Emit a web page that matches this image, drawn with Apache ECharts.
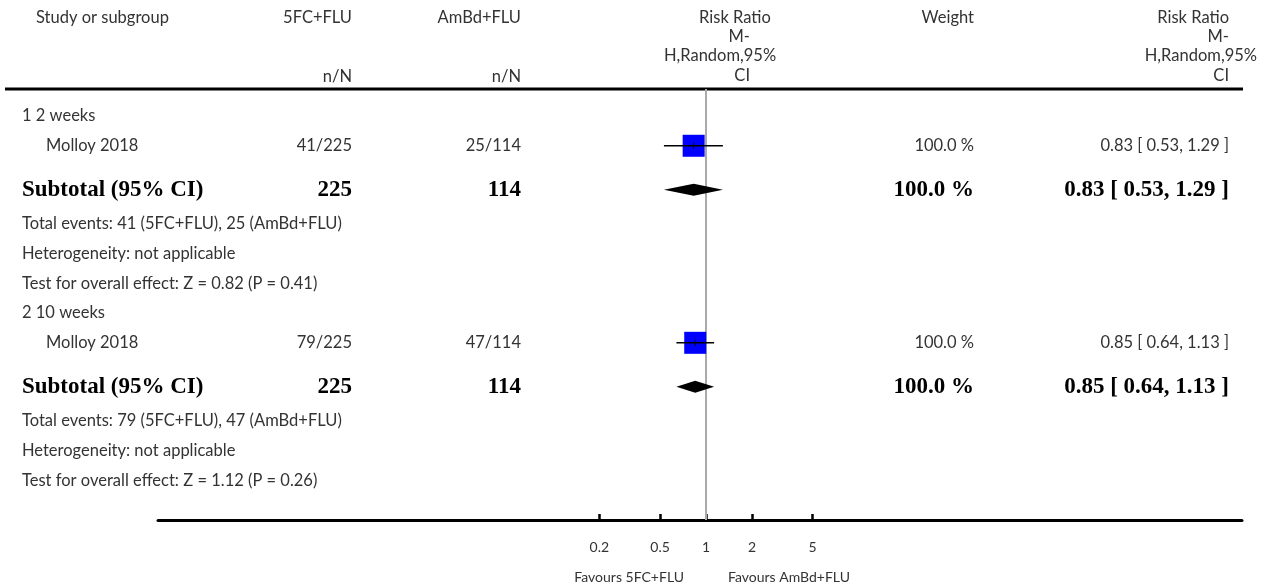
<!DOCTYPE html>
<html><head><meta charset="utf-8">
<script src="https://cdn.jsdelivr.net/npm/echarts@6/dist/echarts.min.js"></script>
<style>html,body{margin:0;padding:0;background:#fff}#c{width:1268px;height:588px}</style>
</head><body><div id="c"></div>
<script>
// ---- data ----
const subgroups = ['1 2 weeks', '2 10 weeks'];
const studies = ['Molloy 2018', 'Molloy 2018'];
const armA = '5FC+FLU';
const armB = 'AmBd+FLU';
const eventsA = [41, 79];
const totalA = [225, 225];
const eventsB = [25, 47];
const totalB = [114, 114];
const rr = [0.83, 0.85];
const ciLow = [0.53, 0.64];
const ciHigh = [1.29, 1.13];
const weights = [100.0, 100.0];
const subRR = [0.83, 0.85];
const subLow = [0.53, 0.64];
const subHigh = [1.29, 1.13];
const subWeights = [100.0, 100.0];
const zValues = ['0.82', '1.12'];
const pValues = ['0.41', '0.26'];
const tickValues = [0.2, 0.5, 1, 2, 5];
const tickLabels = ['0.2', '0.5', '1', '2', '5'];

// ---- layout ----
const headerLineY = 89, axisY = 520;
const gridLeft = 158, gridRight = 1242;
const onePx = 706, pxPerDecade = 152.6;
const xMin = Math.pow(10, (gridLeft - onePx) / pxPerDecade);
const xMax = Math.pow(10, (gridRight - onePx) / pxPerDecade);
const rowPx = 29.72;
const yMax = (axisY - headerLineY) / rowPx;
const colLeft = 22, colStudy = 46, colA = 352, colB = 521, colW = 974, colRR = 1229;
const SANS = "Lato, 'Noto Sans', sans-serif";
const NORMAL = "16.5px " + SANS;
const BOLD = "bold 23px 'Liberation Serif', serif";
const TXT = '#333';

function fmt(v) { return v.toFixed(2); }
function ciText(a, l, h) { return fmt(a) + ' [ ' + fmt(l) + ', ' + fmt(h) + ' ]'; }

// build rows
const rows = [];
let y = 0.91;
let prev = null;
function push(r) {
  if (prev) {
    if (r.type === 'subtotal') y += 1.48;
    else if (prev === 'subtotal') y += 1.15;
    else y += 1.0;
  }
  r.y = y; prev = r.type; rows.push(r);
}
for (let g = 0; g < subgroups.length; g++) {
  push({type: 'group', text: subgroups[g]});
  push({type: 'study', i: g});
  push({type: 'subtotal', i: g});
  push({type: 'plain', text: 'Total events: ' + eventsA[g] + ' (' + armA + '), ' + eventsB[g] + ' (' + armB + ')'});
  push({type: 'plain', text: 'Heterogeneity: not applicable'});
  push({type: 'plain', text: 'Test for overall effect: Z = ' + zValues[g] + ' (P = ' + pValues[g] + ')'});
}

function txt(x, yy, text, align, font, fill) {
  return {type: 'text', x: x, y: yy, style: {text: text, textAlign: align, textVerticalAlign: 'middle', font: font, fill: fill || TXT}};
}

const textData = rows.map((r, k) => [1, r.y, k]);
const studyData = [];
const diamondData = [];
rows.forEach(r => {
  if (r.type === 'study') studyData.push([rr[r.i], r.y, ciLow[r.i], ciHigh[r.i], weights[r.i]]);
  if (r.type === 'subtotal') diamondData.push([subRR[r.i], r.y, subLow[r.i], subHigh[r.i]]);
});

const chart = echarts.init(document.getElementById('c'), null, {renderer: 'canvas'});

const hdr = [];
function htxt(x, yy, text, align) {
  hdr.push({type: 'text', style: {x: x, y: yy, text: text, textAlign: align, textVerticalAlign: 'middle', font: NORMAL, fill: TXT}});
}
htxt(36, 18, 'Study or subgroup', 'left');
htxt(colA, 18, armA, 'right'); htxt(colA, 77, 'n/N', 'right');
htxt(colB, 18, armB, 'right'); htxt(colB, 77, 'n/N', 'right');
htxt(735, 18, 'Risk Ratio', 'center');
htxt(750, 37, 'M-', 'right');
htxt(720, 56, 'H,Random,95%', 'center');
htxt(750, 76, 'CI', 'right');
htxt(colW, 18, 'Weight', 'right');
htxt(colRR, 18, 'Risk Ratio', 'right');
htxt(colRR, 37, 'M-', 'right');
htxt(1257, 56, 'H,Random,95%', 'right');
htxt(colRR, 76, 'CI', 'right');
hdr.push({type: 'line', shape: {x1: 5, y1: headerLineY, x2: 1243, y2: headerLineY}, style: {stroke: '#000', lineWidth: 3}});
hdr.push({type: 'text', style: {x: 684, y: 577, text: 'Favours ' + armA, textAlign: 'right', textVerticalAlign: 'middle', font: '14px ' + SANS, fill: TXT}});
hdr.push({type: 'text', style: {x: 728, y: 577, text: 'Favours ' + armB, textAlign: 'left', textVerticalAlign: 'middle', font: '14px ' + SANS, fill: TXT}});

chart.setOption({
  animation: false,
  backgroundColor: '#fff',
  grid: {left: gridLeft, right: 1268 - gridRight, top: headerLineY, bottom: 588 - axisY, containLabel: false},
  xAxis: {
    type: 'log', logBase: 10, min: xMin, max: xMax, position: 'bottom',
    axisLine: {show: true, onZero: false, lineStyle: {color: '#000', width: 3}},
    axisTick: {show: true, inside: true, length: 6, customValues: tickValues, lineStyle: {color: '#000', width: 2.5}},
    axisLabel: {show: true, customValues: tickValues, margin: 20, fontSize: 14, fontFamily: SANS, color: TXT,
      formatter: function (v) {
        let best = 0, bd = Infinity;
        tickValues.forEach((t, k) => { const d = Math.abs(Math.log10(t) - Math.log10(v)); if (d < bd) { bd = d; best = k; } });
        return tickLabels[best];
      }},
    splitLine: {show: false}
  },
  yAxis: {type: 'value', inverse: true, min: 0, max: yMax, show: false},
  graphic: hdr,
  series: [
    {
      type: 'line', data: [[1, 0], [1, yMax]], symbol: 'none', silent: true, z: 1,
      lineStyle: {color: '#aaa', width: 2}
    },
    {
      type: 'custom', z: 3, clip: false, silent: true, data: studyData,
      renderItem: function (params, api) {
        const c = api.coord([api.value(0), api.value(1)]);
        const lo = api.coord([api.value(2), api.value(1)])[0];
        const hi = api.coord([api.value(3), api.value(1)])[0];
        const s = 22 * Math.sqrt(api.value(4) / 100);
        return {type: 'group', children: [
          {type: 'rect', shape: {x: c[0] - s / 2, y: c[1] - s / 2, width: s, height: s}, style: {fill: '#0000ff'}},
          {type: 'line', shape: {x1: lo, y1: c[1], x2: hi, y2: c[1]}, style: {stroke: '#000', lineWidth: 1.5}},
          {type: 'line', shape: {x1: c[0], y1: c[1] - 3, x2: c[0], y2: c[1] + 3}, style: {stroke: '#000', lineWidth: 1}}
        ]};
      }
    },
    {
      type: 'custom', z: 3, clip: false, silent: true, data: diamondData,
      renderItem: function (params, api) {
        const c = api.coord([api.value(0), api.value(1)]);
        const lo = api.coord([api.value(2), api.value(1)])[0];
        const hi = api.coord([api.value(3), api.value(1)])[0];
        return {type: 'polygon', shape: {points: [[lo, c[1]], [c[0], c[1] - 6], [hi, c[1]], [c[0], c[1] + 6]]}, style: {fill: '#000'}};
      }
    },
    {
      type: 'custom', z: 4, clip: false, silent: true, data: textData,
      renderItem: function (params, api) {
        const r = rows[api.value(2)];
        const py = api.coord([1, api.value(1)])[1];
        const ch = [];
        if (r.type === 'group' || r.type === 'plain') {
          ch.push(txt(colLeft, py, r.text, 'left', NORMAL));
        } else if (r.type === 'study') {
          const i = r.i;
          ch.push(txt(colStudy, py, studies[i], 'left', NORMAL));
          ch.push(txt(colA, py, eventsA[i] + '/' + totalA[i], 'right', NORMAL));
          ch.push(txt(colB, py, eventsB[i] + '/' + totalB[i], 'right', NORMAL));
          ch.push(txt(colW, py, weights[i].toFixed(1) + ' %', 'right', NORMAL));
          ch.push(txt(colRR, py, ciText(rr[i], ciLow[i], ciHigh[i]), 'right', NORMAL));
        } else if (r.type === 'subtotal') {
          const i = r.i;
          ch.push(txt(colLeft, py, 'Subtotal (95% CI)', 'left', BOLD, '#000'));
          ch.push(txt(colA, py, String(totalA[i]), 'right', BOLD, '#000'));
          ch.push(txt(colB, py, String(totalB[i]), 'right', BOLD, '#000'));
          ch.push(txt(colW, py, subWeights[i].toFixed(1) + ' %', 'right', BOLD, '#000'));
          ch.push(txt(colRR, py, ciText(subRR[i], subLow[i], subHigh[i]), 'right', BOLD, '#000'));
        }
        return {type: 'group', children: ch};
      }
    }
  ]
});
</script>
</body></html>
